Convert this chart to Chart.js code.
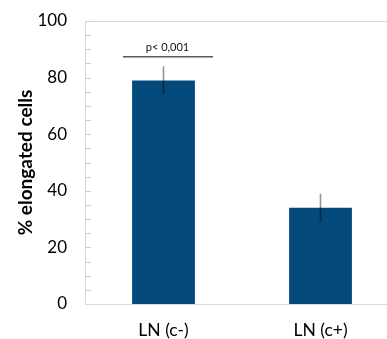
<!DOCTYPE html>
<html>
<head>
<meta charset="utf-8">
<script src="https://cdn.jsdelivr.net/npm/chart.js@4.4.1/dist/chart.umd.min.js"></script>
<style>
html,body{margin:0;padding:0;background:#fff;overflow:hidden;}
#wrap{width:400px;height:339px;}
</style>
</head>
<body>
<div id="wrap"><canvas id="c" width="400" height="339"></canvas></div>
<script>
const categories = ["LN (c-)", "LN (c+)"];
const values = [79, 34];
const errors = [5, 5];
const yTicks = [0, 20, 40, 60, 80, 100];
const minorStep = 5;
const sigLabel = "p< 0,001";
const sigLevel = 87.4;

const FONT = "Lato, 'Noto Sans', sans-serif";

const extras = {
  id: 'extras',
  afterDatasetsDraw(chart) {
    const ctx = chart.ctx;
    const xs = chart.scales.x, ys = chart.scales.y;
    const area = chart.chartArea;
    ctx.save();
    ctx.strokeStyle = '#d9d9d9';
    ctx.lineWidth = 1;
    ctx.beginPath();
    ctx.moveTo(area.left, area.top + 0.5);
    ctx.lineTo(area.right, area.top + 0.5);
    ctx.stroke();
    ctx.strokeStyle = '#cfcfcf';
    for (let v = ys.min + minorStep; v <= ys.max; v += minorStep) {
      const y = Math.round(ys.getPixelForValue(v)) + 0.5;
      ctx.beginPath();
      ctx.moveTo(area.left, y);
      ctx.lineTo(area.left + 6, y);
      ctx.stroke();
    }
    ctx.strokeStyle = 'rgba(0,0,0,0.42)';
    ctx.lineWidth = 1.6;
    values.forEach((v, i) => {
      const x = xs.getPixelForValue(i);
      ctx.beginPath();
      ctx.moveTo(x, ys.getPixelForValue(v + errors[i]));
      ctx.lineTo(x, ys.getPixelForValue(v - errors[i]));
      ctx.stroke();
    });
    const cx = xs.getPixelForValue(0);
    const sy = ys.getPixelForValue(sigLevel);
    ctx.strokeStyle = '#595959';
    ctx.lineWidth = 1.5;
    ctx.beginPath();
    ctx.moveTo(cx - 40.5, sy);
    ctx.lineTo(cx + 49.5, sy);
    ctx.stroke();
    ctx.fillStyle = '#111';
    ctx.font = "11px " + FONT;
    ctx.textAlign = 'center';
    ctx.textBaseline = 'alphabetic';
    ctx.fillText(sigLabel, cx + 4, sy - 6);
    ctx.restore();
  }
};

new Chart(document.getElementById('c'), {
  type: 'bar',
  data: {
    labels: categories,
    datasets: [{
      data: values,
      backgroundColor: '#034A7B',
      borderWidth: 0,
      barPercentage: 0.8,
      categoryPercentage: 0.5
    }]
  },
  options: {
    responsive: false,
    animation: false,
    devicePixelRatio: 1,
    layout: { padding: { top: 21, right: 1, left: 0, bottom: 0 } },
    plugins: { legend: { display: false }, tooltip: { enabled: false } },
    scales: {
      x: {
        afterFit: s => { s.height = 35; s.paddingLeft = 0; s.paddingRight = 0; },
        grid: { display: false, drawTicks: false },
        border: { display: true, color: '#d9d9d9', width: 1 },
        ticks: { color: '#000', font: { family: FONT, size: 17.5 }, padding: 16 }
      },
      y: {
        min: 0, max: 100,
        afterFit: s => { s.width = 85; s.paddingTop = 0; s.paddingBottom = 0; },
        afterBuildTicks: s => { s.ticks = yTicks.map(v => ({ value: v })); },
        grid: { display: false, drawTicks: false },
        border: { display: true, color: '#d9d9d9', width: 1 },
        ticks: { color: '#000', font: { family: FONT, size: 17 }, padding: 18 },
        title: {
          display: true,
          text: '% elongated cells',
          color: '#000',
          font: { family: FONT, size: 19, weight: 'bold' },
          padding: { top: 14, bottom: 0 }
        }
      }
    }
  },
  plugins: [extras]
});
</script>
</body>
</html>
